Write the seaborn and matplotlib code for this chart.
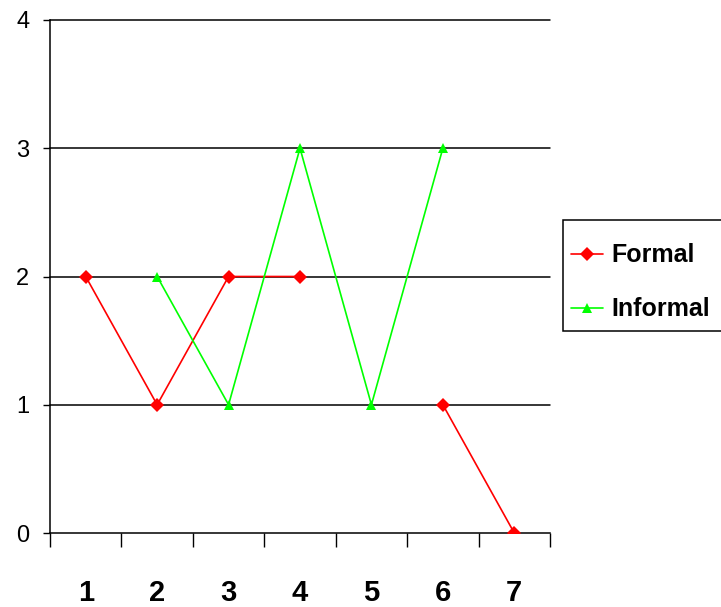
import numpy as np
import pandas as pd
import matplotlib
matplotlib.use("Agg")
import matplotlib.pyplot as plt
from matplotlib.ticker import FixedLocator
from matplotlib.lines import Line2D
from matplotlib.patches import Rectangle
import seaborn as sns

categories = [1, 2, 3, 4, 5, 6, 7]
formal = [2, 1, 2, 2, np.nan, 1, 0]
informal = [np.nan, 2, 1, 3, 1, 3, np.nan]
y_ticks = [0, 1, 2, 3, 4]

# Long-form table; a segment id keeps gaps (missing values) unconnected
rows = []
for name, vals in (("Formal", formal), ("Informal", informal)):
    seg = 0
    for c, v in zip(categories, vals):
        if np.isnan(v):
            seg += 1
            continue
        rows.append({"cat": c, "value": v, "series": name, "seg": f"{name}-{seg}"})
df = pd.DataFrame(rows)

sns.set_theme(style="white")
fonts = ["Liberation Sans", "DejaVu Sans"]
plt.rcParams["font.family"] = fonts

W, H = 721, 607
fig = plt.figure(figsize=(W / 100, H / 100), dpi=100)
ax = fig.add_axes([50 / W, (H - 533) / H, 500 / W, 513 / H])

palette = {"Formal": "#ff0000", "Informal": "#00ff00"}
markers = {"Formal": "D", "Informal": "^"}
sns.lineplot(data=df, x="cat", y="value", hue="series", style="series",
             units="seg", estimator=None, palette=palette, markers=markers,
             dashes=False, linewidth=1.2, markersize=7.5, markeredgewidth=0,
             ax=ax, legend=False, zorder=3)

ax.set_xlim(0.5, 7.5)
ax.set_ylim(0, 4)
ax.set_xlabel("")
ax.set_ylabel("")

# Horizontal gridlines
for y in y_ticks[1:]:
    ax.axhline(y, color="black", lw=1.1, zorder=1, clip_on=False)

ax.set_yticks(y_ticks)
ax.set_yticklabels([str(t) for t in y_ticks], fontsize=17, color="black")
ax.tick_params(axis="y", direction="out", length=5, width=1, color="black",
               pad=10, left=True)

# Category boundaries as tick marks, labels centred on categories
ax.xaxis.set_major_locator(FixedLocator(np.arange(0.5, 8.0, 1.0)))
ax.xaxis.set_minor_locator(FixedLocator(categories))
ax.set_xticklabels([""] * 8)
ax.set_xticklabels([str(c) for c in categories], minor=True,
                   fontsize=21, fontweight="bold", color="black")
ax.tick_params(axis="x", which="major", direction="out", length=10, width=1,
               color="black", bottom=True)
ax.tick_params(axis="x", which="minor", length=0, pad=33, bottom=True)

for side in ("top", "right"):
    ax.spines[side].set_visible(False)
for side in ("left", "bottom"):
    ax.spines[side].set_color("black")
    ax.spines[side].set_linewidth(1.1)
ax.grid(False)

# Legend box, running past the right edge of the figure
fig.patches.append(Rectangle((563 / W, 1 - 331 / H), 200 / W, 111 / H,
                             transform=fig.transFigure, facecolor="white",
                             edgecolor="black", linewidth=1.1, zorder=4))

handles = [Line2D([], [], color=palette[n], marker=markers[n], lw=1.2,
                  markersize=7.5, markeredgewidth=0) for n in ("Formal", "Informal")]
leg = fig.legend(handles, ["Formal", "Informal"], loc="upper left",
                 bbox_to_anchor=(563 / W, 1 - 236 / H),
                 frameon=False,
                 prop={"family": fonts, "weight": "bold", "size": 18},
                 handlelength=1.3, handletextpad=0.35, borderpad=0.3,
                 labelspacing=1.2, borderaxespad=0)
leg.set_zorder(5)
for t in leg.get_texts():
    t.set_color("black")

fig.savefig("out.png", dpi=100)
